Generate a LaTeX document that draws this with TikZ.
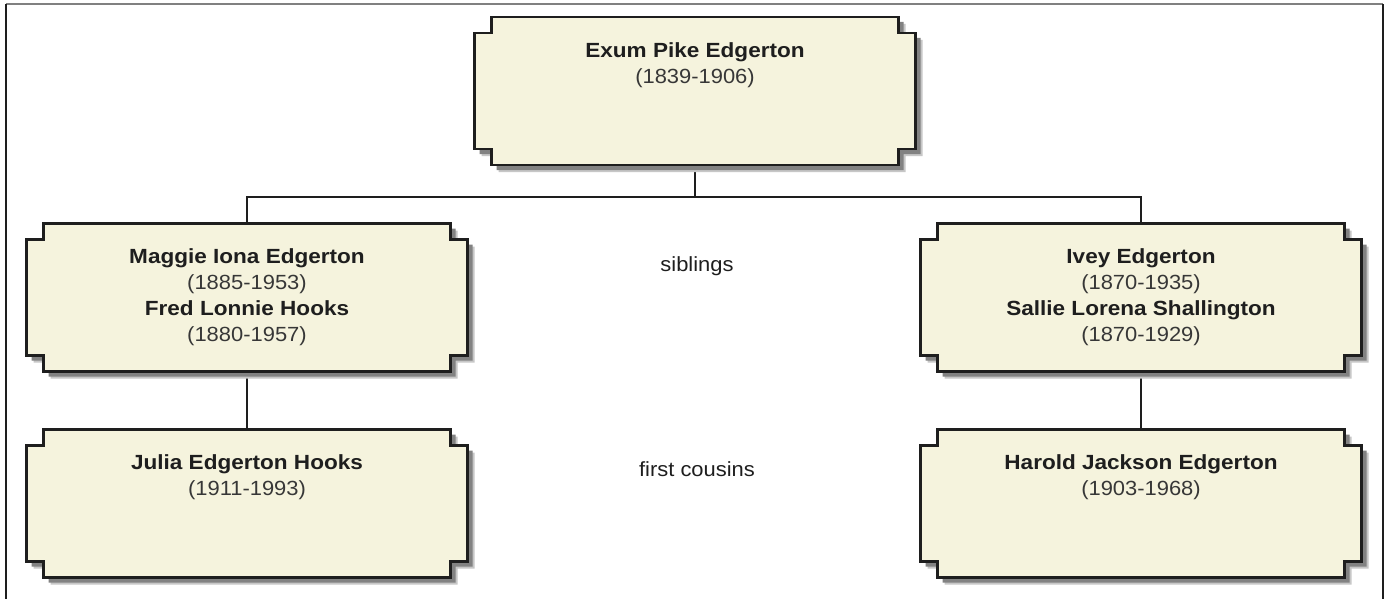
\documentclass[tikz,border=0pt]{standalone}
\usepackage{fontspec}
\setmainfont{Liberation Sans}[FakeStretch=1.07, BoldFeatures={FakeStretch=1.1}]
\usetikzlibrary{calc}
\definecolor{boxfill}{RGB}{245,243,221}
\definecolor{ink}{RGB}{30,30,30}
\definecolor{datec}{RGB}{55,55,55}
\definecolor{shadowc}{RGB}{130,130,130}
\definecolor{frametop}{RGB}{128,128,128}
\tikzset{
  person/.style={minimum width=441pt, minimum height=148pt, inner sep=0pt, outer sep=0pt},
  outline/.style={draw=ink, line width=2.5pt, fill=boxfill, line join=miter},
  shadowA/.style={fill=shadowc!45},
  shadowB/.style={fill=shadowc},
  nametext/.style={align=center, inner sep=0pt, anchor=north, font=\fontsize{20.5}{26}\selectfont, text=ink},
  link/.style={draw=ink, line width=2.2pt},
  note/.style={inner sep=0pt, anchor=base, font=\fontsize{20.5}{26}\selectfont, text=ink},
}
\newcommand\famBox[1]{%
  \fill[shadowA, transform canvas={shift={(7pt,-7pt)}}] ([xshift=17pt]#1.north west) -- ([xshift=-17pt]#1.north east) -- ++(0,16) -- ++(17,0) -- ([yshift=16pt]#1.south east) -- ++(-17,0) -- ++(0,16) -- ([xshift=17pt]#1.south west) -- ++(0,-16) -- ++(-17,0) -- ([yshift=-16pt]#1.north west) -- ++(17,0) -- cycle;
  \fill[shadowB, transform canvas={shift={(5pt,-5pt)}}] ([xshift=17pt]#1.north west) -- ([xshift=-17pt]#1.north east) -- ++(0,16) -- ++(17,0) -- ([yshift=16pt]#1.south east) -- ++(-17,0) -- ++(0,16) -- ([xshift=17pt]#1.south west) -- ++(0,-16) -- ++(-17,0) -- ([yshift=-16pt]#1.north west) -- ++(17,0) -- cycle;
  \draw[outline] ([xshift=17pt]#1.north west) -- ([xshift=-17pt]#1.north east) -- ++(0,16) -- ++(17,0) -- ([yshift=16pt]#1.south east) -- ++(-17,0) -- ++(0,16) -- ([xshift=17pt]#1.south west) -- ++(0,-16) -- ++(-17,0) -- ([yshift=-16pt]#1.north west) -- ++(17,0) -- cycle;
}
\newcommand\dates[1]{\textcolor{datec}{#1}}
\begin{document}
\begin{tikzpicture}[x=1pt,y=-1pt]
\fill[white] (0,0) rectangle (1389,599);
\useasboundingbox (0,0) rectangle (1389,599);
% frame
\draw[frametop, line width=2pt] (6,4.5) -- (1383,4.5);
\draw[ink, line width=1.5pt] (6,4.5) -- (6,599);
\draw[ink, line width=1.5pt] (1383,4.5) -- (1383,599);
% box placeholders
\node[person] (exum) at (695,91) {};
\node[person] (maggie) at (247,297.5) {};
\node[person] (ivey) at (1141,297.5) {};
\node[person] (julia) at (247,503.5) {};
\node[person] (harold) at (1141,503.5) {};
% connectors
\coordinate (bus) at (695,197);
\draw[link] (exum.south) -- (bus);
\draw[link] (maggie.north) |- (bus) -| (ivey.north);
\draw[link] (maggie.south) -- (julia.north);
\draw[link] (ivey.south) -- (harold.north);
% boxes
\famBox{exum}
\famBox{maggie}
\famBox{ivey}
\famBox{julia}
\famBox{harold}
% texts
\node[nametext] (exumT) at ([yshift=-25pt]exum.north) {\textbf{Exum Pike Edgerton}\\\dates{(1839-1906)}};
\node[nametext] (maggieT) at ([yshift=-25pt]maggie.north) {\textbf{Maggie Iona Edgerton}\\\dates{(1885-1953)}\\\textbf{Fred Lonnie Hooks}\\\dates{(1880-1957)}};
\node[nametext] (iveyT) at ([yshift=-25pt]ivey.north) {\textbf{Ivey Edgerton}\\\dates{(1870-1935)}\\\textbf{Sallie Lorena Shallington}\\\dates{(1870-1929)}};
\node[nametext] (juliaT) at ([yshift=-25pt]julia.north) {\textbf{Julia Edgerton Hooks}\\\dates{(1911-1993)}};
\node[nametext] (haroldT) at ([yshift=-25pt]harold.north) {\textbf{Harold Jackson Edgerton}\\\dates{(1903-1968)}};
\node[note] (sib) at (697,271) {siblings};
\node[note] (cous) at (697,476) {first cousins};
\end{tikzpicture}
\end{document}
